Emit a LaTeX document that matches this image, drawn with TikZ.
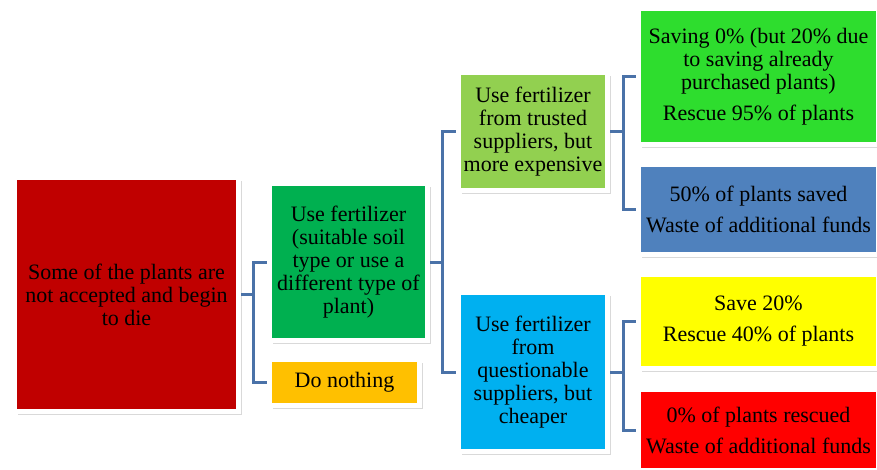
\documentclass[tikz,border=0pt]{standalone}
\usepackage{fontspec}
\setmainfont{Liberation Serif}
\usetikzlibrary{shadows}
\definecolor{rootred}{HTML}{C00000}
\definecolor{fertgreen}{HTML}{00B050}
\definecolor{idleorange}{HTML}{FFC000}
\definecolor{trustgreen}{HTML}{92D050}
\definecolor{cheapblue}{HTML}{00B0F0}
\definecolor{savegreen}{HTML}{2EDD2E}
\definecolor{halfblue}{HTML}{4F81BD}
\definecolor{saveyellow}{HTML}{FFFF00}
\definecolor{lossred}{HTML}{FF0000}
\definecolor{linkblue}{HTML}{4A72A8}

\begin{document}
\begin{tikzpicture}[x=1pt,y=-1pt,
    box/.style={draw=white,line width=5pt,align=center,inner sep=0pt,
        font=\fontsize{22}{23}\selectfont,
        drop shadow={shadow xshift=3pt,shadow yshift=-3.5pt,opacity=0.3}},
    conn/.style={draw=linkblue,line width=3pt}]
    \useasboundingbox (0,0) rectangle (877,470);

    \node[box,fill=rootred,minimum width=224,minimum height=234] (root) at (126.5,294.5)
        {Some of the plants are\\not accepted and begin\\to die};

    \node[box,fill=fertgreen,minimum width=158,minimum height=157] (fert) at (348.5,262)
        {Use fertilizer\\(suitable soil\\type or use a\\different type of\\plant)};
    \node[box,fill=idleorange,minimum width=150,minimum height=46] (idle) at (344.5,382.5)
        {Do nothing};

    \node[box,fill=trustgreen,minimum width=149,minimum height=118] (trusted) at (533,131.5)
        {Use fertilizer\\from trusted\\suppliers, but\\more expensive};
    \node[box,fill=cheapblue,minimum width=149,minimum height=159] (cheap) at (533,372)
        {Use fertilizer\\from\\questionable\\suppliers, but\\cheaper};

    \node[box,fill=savegreen,minimum width=240,minimum height=136] (save95) at (758.5,76.5)
        {Saving 0\% (but 20\% due\\to saving already\\purchased plants)\\[8pt]Rescue 95\% of plants};
    \node[box,fill=halfblue,minimum width=240,minimum height=90] (half) at (758.5,209.5)
        {50\% of plants saved\\[8pt]Waste of additional funds};
    \node[box,fill=saveyellow,minimum width=240,minimum height=94] (save20) at (758.5,321.5)
        {Save 20\%\\[8pt]Rescue 40\% of plants};
    \node[box,fill=lossred,minimum width=240,minimum height=81] (lost) at (758.5,430)
        {0\% of plants rescued\\[8pt]Waste of additional funds};

    \draw[conn] (root.east) -| ([xshift=-14pt]fert.west) -- (fert.west);
    \draw[conn] (root.east) -| ([xshift=-14pt]idle.west) -- (idle.west);
    \draw[conn] (fert.east) -| ([xshift=-14pt]trusted.west) -- (trusted.west);
    \draw[conn] (fert.east) -| ([xshift=-14pt]cheap.west) -- (cheap.west);
    \draw[conn] (trusted.east) -| ([xshift=-13pt]save95.west) -- (save95.west);
    \draw[conn] (trusted.east) -| ([xshift=-13pt]half.west) -- (half.west);
    \draw[conn] (cheap.east) -| ([xshift=-13pt]save20.west) -- (save20.west);
    \draw[conn] (cheap.east) -| ([xshift=-13pt]lost.west) -- (lost.west);
\end{tikzpicture}
\end{document}
